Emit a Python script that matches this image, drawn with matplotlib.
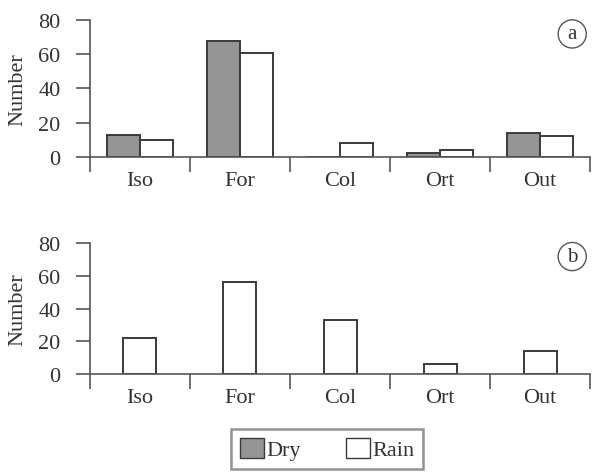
import numpy as np
import matplotlib.pyplot as plt
from matplotlib.patches import Patch

plt.rcParams['font.family'] = ['Liberation Serif', 'DejaVu Serif']
plt.rcParams['font.size'] = 16

categories = ['Iso', 'For', 'Col', 'Ort', 'Out']
dry_a = [13, 68, 0, 2, 14]
rain_a = [10, 61, 8, 4, 12]
rain_b = [22, 56, 33, 6, 14]

gray = '#959595'
edge = '#3a3a3a'
txt = '#333333'

fig = plt.figure(figsize=(5.95, 4.77), dpi=100)
ax1 = fig.add_axes([0.151, 0.669, 0.841, 0.287])
ax2 = fig.add_axes([0.151, 0.214, 0.841, 0.274])

x = np.arange(len(categories))
w = 0.33
ax1.bar(x - w / 2, dry_a, w, color=gray, edgecolor=edge, linewidth=1.4)
ax1.bar(x + w / 2, rain_a, w, color='white', edgecolor=edge, linewidth=1.4)
ax2.bar(x, rain_b, w, color='white', edgecolor=edge, linewidth=1.4)

for ax, lab in [(ax1, 'a'), (ax2, 'b')]:
    ax.set_xlim(-0.5, len(categories) - 0.5)
    ax.set_ylim(0, 80)
    ax.set_yticks([0, 20, 40, 60, 80])
    ax.spines['top'].set_visible(False)
    ax.spines['right'].set_visible(False)
    for s in ['left', 'bottom']:
        ax.spines[s].set_color('#555555')
        ax.spines[s].set_linewidth(1.2)
    ax.set_xticks(x)
    ax.set_xticklabels(categories)
    ax.set_xticks(np.arange(-0.5, len(categories)), minor=True)
    ax.tick_params(axis='x', which='major', length=0, pad=10, labelcolor=txt)
    ax.tick_params(axis='x', which='minor', length=11, width=1.2, color='#555555', direction='out')
    ax.tick_params(axis='y', length=10, width=1.2, color='#555555', direction='out', pad=11, labelcolor=txt)
    ax.set_ylabel('Number', color=txt, labelpad=8)
    ax.text(0.964, 0.898, lab, transform=ax.transAxes, ha='center', va='center', fontsize=15,
            color=txt,
            bbox=dict(boxstyle='circle,pad=0.22', facecolor='white', edgecolor='#555555', linewidth=1))

handles = [Patch(facecolor=gray, edgecolor=edge, label='Dry'),
           Patch(facecolor='white', edgecolor=edge, label='Rain')]
leg = fig.legend(handles=handles, loc='upper left', bbox_to_anchor=(231 / 595, 1 - 430 / 477),
                 ncol=2, frameon=True, fancybox=False, borderaxespad=0, borderpad=0.4,
                 handlelength=1.1, handleheight=1.0, handletextpad=0.1, columnspacing=2.0)
leg.get_frame().set_edgecolor('#777777')
leg.get_frame().set_linewidth(1.8)
for t in leg.get_texts():
    t.set_color(txt)

plt.savefig('out.png', dpi=100)
